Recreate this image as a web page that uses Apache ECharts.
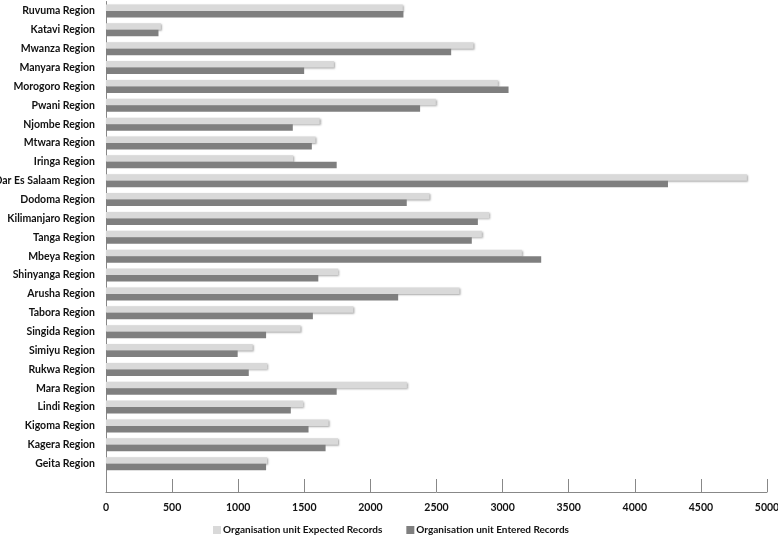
<!DOCTYPE html>
<html>
<head>
<meta charset="utf-8">
<script src="https://cdn.jsdelivr.net/npm/echarts@6/dist/echarts.min.js"></script>
<style>html,body{margin:0;padding:0;background:#fff}#c{width:778px;height:538px}</style>
</head>
<body>
<div id="c"></div>
<script>
const categories = ["Ruvuma Region","Katavi Region","Mwanza Region","Manyara Region","Morogoro Region","Pwani Region","Njombe Region","Mtwara Region","Iringa Region","Dar Es Salaam Region","Dodoma Region","Kilimanjaro Region","Tanga Region","Mbeya Region","Shinyanga Region","Arusha Region","Tabora Region","Singida Region","Simiyu Region","Rukwa Region","Mara Region","Lindi Region","Kigoma Region","Kagera Region","Geita Region",""];
const expected = [2245,415,2780,1724,2964,2495,1616,1585,1416,4848,2447,2898,2843,3146,1757,2674,1871,1472,1110,1219,2276,1492,1684,1755,1219,null];
const entered  = [2250,397,2611,1499,3045,2376,1413,1557,1745,4251,2275,2813,2767,3292,1606,2210,1565,1211,996,1080,1745,1398,1532,1661,1211,null];
const xTicks = {min:0,max:5000,interval:500};
const seriesNames = ["Organisation unit Expected Records","Organisation unit Entered Records"];

const FONT = 'Lato';
const chart = echarts.init(document.getElementById('c'), null, {renderer:'canvas'});
chart.setOption({
  animation:false,
  backgroundColor:'#fff',
  textStyle:{fontFamily:FONT},
  grid:{left:106,right:11,top:1.5,bottom:46,containLabel:false,outerBoundsMode:'none'},
  legend:{
    data:seriesNames, left:213, top:525, padding:0, icon:'rect', itemWidth:8, itemHeight:8, itemGap:24,
    textStyle:{fontFamily:FONT,fontSize:10,fontWeight:'bold',color:'#111',padding:[0,0,0,-3]}
  },
  xAxis:{
    type:'value', min:xTicks.min, max:xTicks.max, interval:xTicks.interval,
    axisLine:{show:true,lineStyle:{color:'#888',width:1}},
    axisTick:{show:true,inside:true,length:13,lineStyle:{color:'#888'}},
    splitLine:{show:false},
    axisLabel:{fontFamily:FONT,fontSize:10.5,fontWeight:'bold',color:'#111',margin:10,formatter:function(v){return String(v);}}
  },
  yAxis:{
    type:'category', data:categories, inverse:true,
    axisLine:{show:true,lineStyle:{color:'#888',width:1}},
    axisTick:{show:false},
    axisLabel:{fontFamily:FONT,fontSize:10.5,fontWeight:'bold',color:'#111',margin:11,interval:0}
  },
  series:[
    {name:seriesNames[0],type:'bar',data:expected,barWidth:6.5,barGap:'0%',
     itemStyle:{color:'#d9d9d9',shadowColor:'rgba(0,0,0,0.35)',shadowBlur:2,shadowOffsetX:1,shadowOffsetY:1}},
    {name:seriesNames[1],type:'bar',data:entered,barWidth:6.5,barGap:'0%',
     itemStyle:{color:'#7f7f7f'}}
  ]
});
</script>
</body>
</html>
